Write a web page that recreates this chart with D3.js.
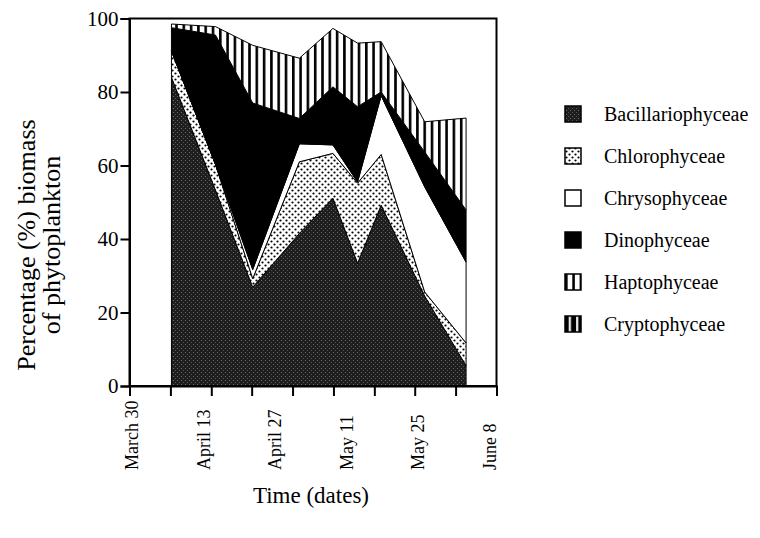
<!DOCTYPE html>
<html>
<head>
<meta charset="utf-8">
<script src="https://cdn.jsdelivr.net/npm/d3@7/dist/d3.min.js"></script>
<style>
  body { margin: 0; background: #fff; }
  text { font-family: "Liberation Serif", "Times New Roman", serif; fill: #000; }
</style>
</head>
<body>
<svg id="chart" width="760" height="538"></svg>
<script>
// sampling days, counted from March 30
var sampleDay = [8, 16.4, 23.5, 32.4, 38.8, 43.5, 48, 56.3, 64.2];
// percentage of biomass per class at each sampling
var bacillario = [84, 53.3, 26.9, 41.5, 51.1, 33.4, 49.2, 24.5, 5.5];
var chloro = [7.2, 7, 2.3, 19.5, 12.2, 21.8, 13.8, 1.1, 6.2];
var chryso = [0, 0, 2.5, 4.9, 2.3, 0.3, 16, 28.6, 22];
var dino = [6.3, 35.2, 45.3, 6.9, 15.8, 20.5, 1, 9.5, 14.2];
var hapto = [1, 2.3, 15.7, 16.4, 15.9, 17.3, 13.7, 8.2, 25];
var crypto = [1.5, 2.2, 7.3, 10.8, 2.7, 6.7, 6.3, 28.1, 27.1];

var classNames = ["Bacillariophyceae", "Chlorophyceae", "Chrysophyceae", "Dinophyceae", "Haptophyceae", "Cryptophyceae"];
var classFills = ["url(#bacil)", "url(#dots)", "#fff", "#000", "url(#hapto)", "url(#crypto)"];

var tickDay = [0, 7.8, 15.6, 23.3, 31.1, 38.9, 46.7, 54.4, 62.2, 70];
var labelDay = [0, 14, 28, 42, 56, 70];
var labelText = ["March 30", "April 13", "April 27", "May 11", "May 25", "June 8"];
var yTicks = [0, 20, 40, 60, 80, 100];

var svg = d3.select("#chart");

// <------ fill patterns ------>
var defs = svg.append("defs");
var pb = defs.append("pattern").attr("id", "bacil").attr("patternUnits", "userSpaceOnUse")
  .attr("width", 4).attr("height", 4);
pb.append("rect").attr("width", 4).attr("height", 4).attr("fill", "#1e1e1e");
pb.append("rect").attr("x", 1).attr("y", 0).attr("width", 1).attr("height", 1).attr("fill", "#6a6a6a");
pb.append("rect").attr("x", 3).attr("y", 2).attr("width", 1).attr("height", 1).attr("fill", "#555");

var pd = defs.append("pattern").attr("id", "dots").attr("patternUnits", "userSpaceOnUse")
  .attr("width", 6).attr("height", 6);
pd.append("rect").attr("width", 6).attr("height", 6).attr("fill", "#fff");
pd.append("circle").attr("cx", 1.5).attr("cy", 1.5).attr("r", 1.1).attr("fill", "#000");
pd.append("circle").attr("cx", 4.5).attr("cy", 4.5).attr("r", 1.1).attr("fill", "#000");

var ph = defs.append("pattern").attr("id", "hapto").attr("patternUnits", "userSpaceOnUse")
  .attr("width", 7.3).attr("height", 10);
ph.append("rect").attr("width", 7.3).attr("height", 10).attr("fill", "#fff");
ph.append("rect").attr("x", 0).attr("width", 2.6).attr("height", 10).attr("fill", "#000");

var pc = defs.append("pattern").attr("id", "crypto").attr("patternUnits", "userSpaceOnUse")
  .attr("width", 7.3).attr("height", 10);
pc.append("rect").attr("width", 7.3).attr("height", 10).attr("fill", "#000");
pc.append("rect").attr("x", 3.8).attr("width", 2.1).attr("height", 10).attr("fill", "#fff");

// <------ scales ------>
var x = d3.scaleLinear().domain([0, 70]).range([129.5, 496.5]);
var y = d3.scaleLinear().domain([0, 100]).range([386, 18.5]);
// date labels were set by hand a little inside the end ticks
var xLabel = d3.scaleLinear().domain([0, 70]).range([138, 496]);

var rows = sampleDay.map(function(d, i) {
  return { day: d, b: bacillario[i], c: chloro[i], y: chryso[i], d: dino[i], h: hapto[i], k: crypto[i] };
});
var series = d3.stack().keys(["b", "c", "y", "d", "h", "k"])(rows);

var area = d3.area()
  .x(function(d) { return x(d.data.day); })
  .y0(function(d) { return y(d[0]); })
  .y1(function(d) { return y(d[1]); });

svg.append("g").selectAll("path")
  .data(series)
  .enter()
  .append("path")
  .attr("d", area)
  .attr("fill", function(d, i) { return classFills[i]; })
  .attr("stroke", "#000")
  .attr("stroke-width", 1)
  .attr("stroke-linejoin", "miter");

// <------ frame and axes ------>
svg.append("rect")
  .attr("x", x(0)).attr("y", y(100))
  .attr("width", x(70) - x(0)).attr("height", y(0) - y(100))
  .attr("fill", "none").attr("stroke", "#000").attr("stroke-width", 2);

var yAxis = svg.append("g")
  .attr("transform", "translate(" + x(0) + ",0)")
  .call(d3.axisLeft(y).tickValues(yTicks).tickSize(9).tickPadding(2));
yAxis.select(".domain").attr("stroke-width", 2);
yAxis.selectAll(".tick line").attr("stroke-width", 2);
yAxis.selectAll("text").attr("font-size", 21).attr("font-family", "Liberation Serif");

var xAxis = svg.append("g")
  .attr("transform", "translate(0," + y(0) + ")")
  .call(d3.axisBottom(x).tickValues(tickDay).tickSize(10).tickFormat(""));
xAxis.select(".domain").attr("stroke-width", 2);
xAxis.selectAll(".tick line").attr("stroke-width", 2);

svg.append("g").selectAll("text")
  .data(labelDay)
  .enter()
  .append("text")
  .attr("transform", function(d) { return "translate(" + xLabel(d) + ",470) rotate(-90)"; })
  .attr("text-anchor", "start")
  .attr("font-size", 18)
  .text(function(d, i) { return labelText[i]; });

// <------ axis titles ------>
svg.append("text")
  .attr("x", 311).attr("y", 503)
  .attr("text-anchor", "middle")
  .attr("font-size", 23)
  .text("Time (dates)");

var yTitle = svg.append("text")
  .attr("transform", "translate(35,245) rotate(-90)")
  .attr("text-anchor", "middle")
  .attr("font-size", 26);
yTitle.append("tspan").attr("x", 0).attr("dy", 0).text("Percentage (%) biomass");
yTitle.append("tspan").attr("x", 0).attr("dy", 25).text("of phytoplankton");

// <------ legend ------>
var legend = svg.append("g").selectAll("g")
  .data(classNames)
  .enter()
  .append("g")
  .attr("transform", function(d, i) { return "translate(565," + (114 + i * 42) + ")"; });
legend.append("rect")
  .attr("x", 0).attr("y", -8).attr("width", 16).attr("height", 16)
  .attr("fill", function(d, i) { return classFills[i]; })
  .attr("stroke", "#000").attr("stroke-width", 1.5);
legend.append("text")
  .attr("x", 39).attr("y", 7)
  .attr("font-size", 20)
  .text(function(d) { return d; });
</script>
</body>
</html>
